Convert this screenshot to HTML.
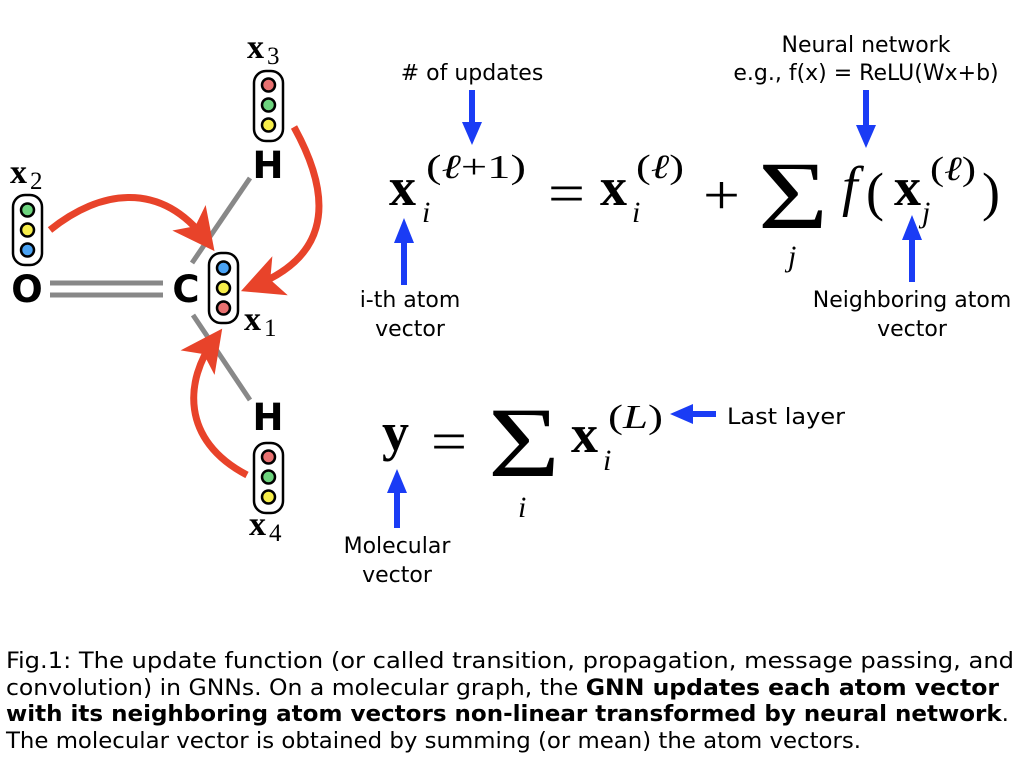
<!DOCTYPE html>
<html><head><meta charset="utf-8"><style>
html,body{margin:0;padding:0;background:#fff;width:1024px;height:768px;overflow:hidden}
</style></head><body>
<svg width="1024" height="768" xmlns="http://www.w3.org/2000/svg">
<defs>
<marker id="rh" markerWidth="6" markerHeight="6" refX="4" refY="3" orient="auto" markerUnits="strokeWidth"><path d="M0,0 L6,3 L0,6 L1.5,3 Z" fill="#e8432a"/></marker>
</defs>
<g stroke="#888" stroke-width="5" fill="none">
<line x1="50" y1="283" x2="163" y2="283"/>
<line x1="50" y1="295" x2="163" y2="295"/>
<line x1="192" y1="263" x2="250" y2="178"/>
<line x1="193" y1="315" x2="250" y2="400"/>
</g>
<g font-family="'DejaVu Sans','Liberation Sans',sans-serif" font-weight="bold" font-size="37" fill="#000" text-anchor="middle">
<text x="27" y="302">O</text>
<text x="186" y="302">C</text>
<text x="268" y="178">H</text>
<text x="268" y="430">H</text>
</g>
<g font-family="'Liberation Serif',serif" fill="#000">
<text x="247" y="58" font-size="34" font-weight="bold">x</text><text x="267" y="64" font-size="25">3</text>
<text x="10" y="183" font-size="34" font-weight="bold">x</text><text x="30" y="189" font-size="25">2</text>
<text x="244" y="330" font-size="34" font-weight="bold">x</text><text x="264" y="336" font-size="25">1</text>
<text x="249" y="535" font-size="34" font-weight="bold">x</text><text x="269" y="541" font-size="25">4</text>
</g>
<g stroke="#000" stroke-width="2.5">
<rect x="254" y="71" width="29" height="70" rx="12" fill="#fff"/>
<circle cx="268.5" cy="85" r="6.5" fill="#e97171"/><circle cx="268.5" cy="105" r="6.5" fill="#6dd47e"/><circle cx="268.5" cy="125" r="6.5" fill="#f7ee4a"/>
<rect x="13" y="195" width="29" height="70" rx="12" fill="#fff"/>
<circle cx="27.5" cy="210" r="6.5" fill="#6dd47e"/><circle cx="27.5" cy="230" r="6.5" fill="#f7ee4a"/><circle cx="27.5" cy="250" r="6.5" fill="#4aa3f5"/>
<rect x="209" y="253" width="29" height="70" rx="12" fill="#fff"/>
<circle cx="223.5" cy="268" r="6.5" fill="#4aa3f5"/><circle cx="223.5" cy="288" r="6.5" fill="#f7ee4a"/><circle cx="223.5" cy="308" r="6.5" fill="#e97171"/>
<rect x="254" y="443" width="29" height="70" rx="12" fill="#fff"/>
<circle cx="268.5" cy="457" r="6.5" fill="#e97171"/><circle cx="268.5" cy="477" r="6.5" fill="#6dd47e"/><circle cx="268.5" cy="497" r="6.5" fill="#f7ee4a"/>
</g>
<g stroke="#e8432a" stroke-width="7" fill="none" marker-end="url(#rh)">
<path d="M50,230 C100,190 160,180 206,240"/>
<path d="M294,127 C340,210 320,260 254,286"/>
<path d="M247,475 C180,440 185,380 214,340"/>
</g>
<g stroke="#1a3cf5" stroke-width="6" fill="#1a3cf5">
<line x1="472" y1="90" x2="472" y2="125"/><path d="M462,122 L482,122 L472,145 Z" stroke="none"/>
<line x1="866" y1="90" x2="866" y2="128"/><path d="M856,125 L876,125 L866,148 Z" stroke="none"/>
<line x1="404" y1="285" x2="404" y2="240"/><path d="M394,243 L414,243 L404,218 Z" stroke="none"/>
<line x1="912" y1="282" x2="912" y2="237"/><path d="M902,240 L922,240 L912,215 Z" stroke="none"/>
<line x1="397" y1="528" x2="397" y2="490"/><path d="M387,493 L407,493 L397,469 Z" stroke="none"/>
<line x1="716" y1="414" x2="690" y2="414"/><path d="M693,404 L693,424 L670,414 Z" stroke="none"/>
</g>
<g font-family="'DejaVu Sans','Liberation Sans',sans-serif" font-size="22" fill="#000" text-anchor="middle">
<text x="472" y="80">#  of updates</text>
<text x="866" y="52">Neural network</text>
<text x="866" y="80">e.g., f(x) = ReLU(Wx+b)</text>
<text x="410" y="307">i-th atom</text>
<text x="410" y="336">vector</text>
<text x="912" y="307">Neighboring atom</text>
<text x="912" y="336">vector</text>
<text x="397" y="553">Molecular</text>
<text x="397" y="582">vector</text>
<text x="727" y="424" text-anchor="start" textLength="118" lengthAdjust="spacingAndGlyphs">Last layer</text>
</g>
<g font-family="'Liberation Serif','DejaVu Serif',serif" fill="#000">
<text x="389" y="205" font-size="54" font-weight="bold">x</text>
<text x="422" y="222" font-size="30" font-style="italic">i</text>
<text x="426" y="178" font-size="34" textLength="100" lengthAdjust="spacingAndGlyphs">(<tspan font-style="italic">ℓ</tspan>+1)</text>
<text x="548" y="212" font-size="56" textLength="37" lengthAdjust="spacingAndGlyphs">=</text>
<text x="600" y="205" font-size="54" font-weight="bold">x</text>
<text x="632" y="222" font-size="30" font-style="italic">i</text>
<text x="636" y="178" font-size="34" textLength="48" lengthAdjust="spacingAndGlyphs">(<tspan font-style="italic">ℓ</tspan>)</text>
<text x="703" y="214" font-size="56" textLength="37" lengthAdjust="spacingAndGlyphs">+</text>
<text x="758" y="228" font-size="96" textLength="70" lengthAdjust="spacingAndGlyphs">Σ</text>
<text x="788" y="266" font-size="30" font-style="italic">j</text>
<text x="842" y="205" font-size="56" font-style="italic">f</text>
<text x="866" y="210" font-size="54">(</text>
<text x="894" y="205" font-size="54" font-weight="bold">x</text>
<text x="922" y="222" font-size="30" font-style="italic">j</text>
<text x="930" y="180" font-size="34" textLength="46" lengthAdjust="spacingAndGlyphs">(<tspan font-style="italic">ℓ</tspan>)</text>
<text x="982" y="210" font-size="54">)</text>

<text x="382" y="450" font-size="54" font-weight="bold">y</text>
<text x="431" y="460" font-size="56" textLength="36" lengthAdjust="spacingAndGlyphs">=</text>
<text x="488" y="476" font-size="100" textLength="72" lengthAdjust="spacingAndGlyphs">Σ</text>
<text x="518" y="517" font-size="30" font-style="italic">i</text>
<text x="571" y="452" font-size="54" font-weight="bold">x</text>
<text x="603" y="470" font-size="30" font-style="italic">i</text>
<text x="608" y="428" font-size="34" textLength="55" lengthAdjust="spacingAndGlyphs">(<tspan font-style="italic">L</tspan>)</text>
</g>
<g font-family="'DejaVu Sans Condensed','DejaVu Sans','Liberation Sans',sans-serif" font-size="22" fill="#000">
<text x="6" y="668" textLength="1008" lengthAdjust="spacingAndGlyphs">Fig.1: The update function (or called transition, propagation, message passing, and</text>
<text x="6" y="695" textLength="993" lengthAdjust="spacingAndGlyphs">convolution) in GNNs. On a molecular graph, the <tspan font-weight="bold">GNN updates each atom vector</tspan></text>
<text x="6" y="721" textLength="1003" lengthAdjust="spacingAndGlyphs"><tspan font-weight="bold">with its neighboring atom vectors non-linear transformed by neural network</tspan>.</text>
<text x="6" y="748" textLength="855" lengthAdjust="spacingAndGlyphs">The molecular vector is obtained by summing (or mean) the atom vectors.</text>
</g>
</svg>
</body></html>
